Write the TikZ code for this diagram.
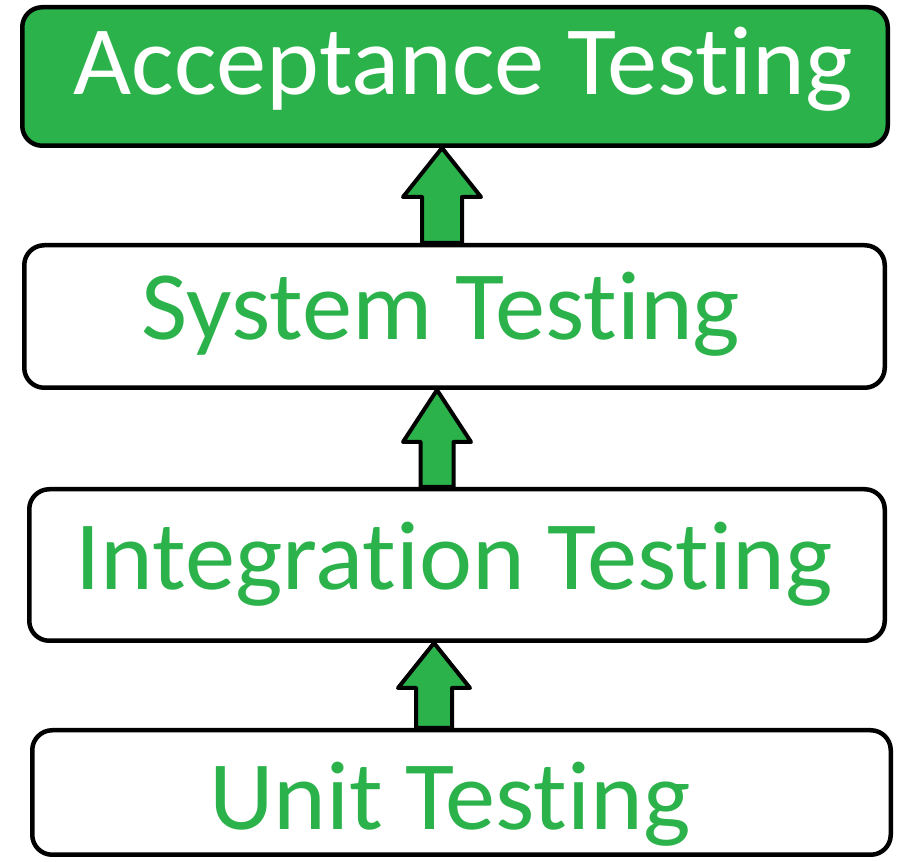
\documentclass[tikz,border=0pt]{standalone}
\usepackage{fontspec}
\setmainfont{Carlito}[Ligatures={NoCommon}, RawFeature={-liga}, FakeStretch=1.025]
\usetikzlibrary{calc}
\definecolor{gfg}{RGB}{44,178,75}
\tikzset{
  box/.style={draw=black, line width=4.5pt, rounded corners=20pt, inner sep=0pt, fill=white},
  lbl/.style={anchor=base, inner sep=0pt, text=gfg, font=\fontsize{98}{100}\selectfont},
  blk/.style={draw=black, fill=gfg, line width=4pt, line join=round}
}
\begin{document}
\begin{tikzpicture}[x=1pt,y=1pt]
\useasboundingbox[fill=white] (0,0) rectangle (905,862);
% boxes
\node[box, fill=gfg, minimum width=865.5pt, minimum height=138.5pt] (a) at (455,785.5) {};
\node[box, minimum width=860.5pt, minimum height=142.5pt] (s) at (454.5,545.5) {};
\node[box, minimum width=855.5pt, minimum height=151.5pt] (i) at (457,297) {};
\node[box, minimum width=858.5pt, minimum height=124.5pt] (u) at (461.5,69.5) {};
% labels
\node[lbl, text=white] (at) at (463,767) {Acceptance Testing};
\node[lbl] (st) at (441,522) {System Testing};
\node[lbl] (it) at (454,272) {Integration Testing};
\node[lbl] (ut) at (450,32) {Unit Testing};
% block arrows
\draw[blk] let \p1=(a.south), \p2=(s.north) in
  (442pt,\y1) -- ({481pt},{\y1-49pt}) -- ({462pt},{\y1-49pt}) -- (462pt,\y2)
  -- (422pt,\y2) -- ({422pt},{\y1-49pt}) -- ({403pt},{\y1-49pt}) -- cycle;
\draw[blk] let \p1=(s.south), \p2=(i.north) in
  (437pt,\y1) -- ({471pt},{\y1-52pt}) -- ({453.5pt},{\y1-52pt}) -- (453.5pt,\y2)
  -- (420.5pt,\y2) -- ({420.5pt},{\y1-52pt}) -- ({403pt},{\y1-52pt}) -- cycle;
\draw[blk] let \p1=(i.south), \p2=(u.north) in
  (434pt,\y1) -- ({470pt},{\y1-45pt}) -- ({452pt},{\y1-45pt}) -- (452pt,\y2)
  -- (416pt,\y2) -- ({416pt},{\y1-45pt}) -- ({398pt},{\y1-45pt}) -- cycle;
\end{tikzpicture}
\end{document}
